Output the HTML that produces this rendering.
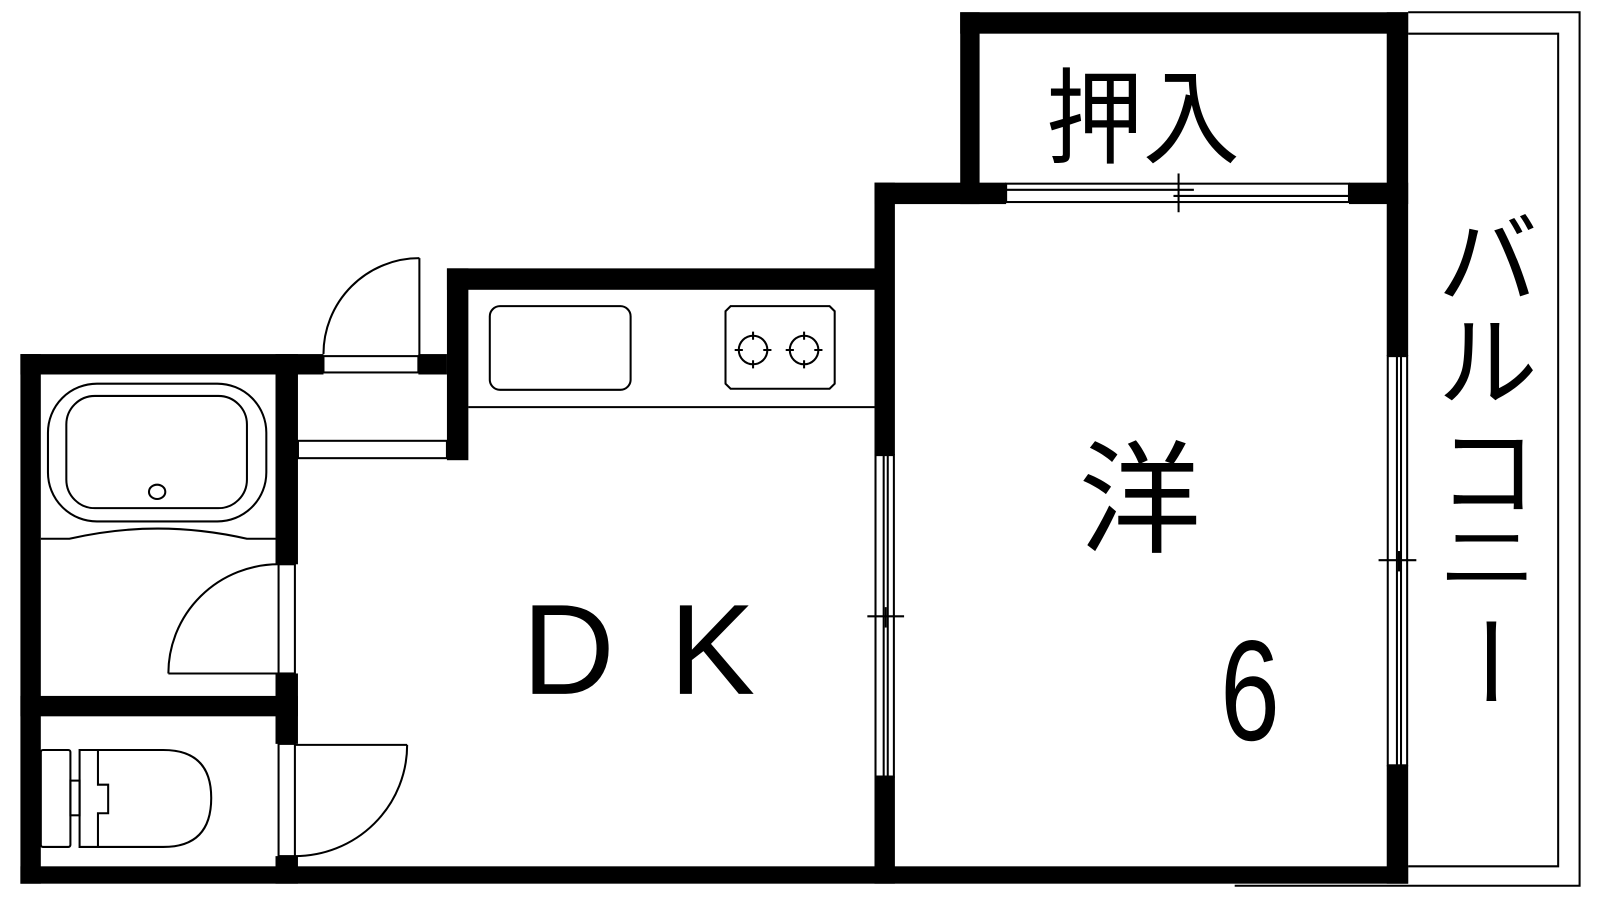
<!DOCTYPE html>
<html><head><meta charset="utf-8"><style>
html,body{margin:0;padding:0;background:#fff;}
svg{display:block}
text{font-family:"Liberation Sans","Noto Sans CJK JP",sans-serif;fill:#000}
</style></head><body>
<svg width="1600" height="900" viewBox="0 0 1568 882" preserveAspectRatio="none" xmlns="http://www.w3.org/2000/svg">
<rect width="1568" height="882" fill="#fff"/>
<g fill="#000">
<rect x="20" y="347" width="20" height="519"/>
<rect x="20" y="347" width="297" height="20"/>
<rect x="410" y="347" width="28" height="20"/>
<rect x="438" y="263" width="21" height="188"/>
<rect x="438" y="263" width="420" height="21"/>
<rect x="270" y="347" width="22" height="206"/>
<rect x="270" y="660" width="22" height="69"/>
<rect x="270" y="839" width="22" height="27"/>
<rect x="20" y="682" width="272" height="20"/>
<rect x="20" y="849" width="1360" height="17"/>
<rect x="857" y="179" width="20" height="267"/>
<rect x="857" y="761" width="20" height="105"/>
<rect x="857" y="179" width="129" height="21"/>
<rect x="1322" y="179" width="58" height="21"/>
<rect x="941" y="12" width="439" height="21"/>
<rect x="941" y="12" width="19" height="188"/>
<rect x="1359" y="12" width="21" height="337"/>
<rect x="1359" y="750" width="21" height="116"/>
</g>
<g fill="none" stroke="#000" stroke-width="2">
<polyline points="1380,12 1548,12 1548,868 1210,868"/>
<polyline points="1380,33 1527,33 1527,849 1380,849"/>
<line x1="411" y1="253" x2="411" y2="365"/>
<path d="M411,253 A94,94 0 0 0 317,347"/>
<rect x="317" y="349" width="93" height="16"/>
<rect x="292" y="432" width="146" height="17"/>
<line x1="459" y1="399" x2="857" y2="399"/>
<rect x="273" y="553" width="16" height="107"/>
<line x1="165" y1="660" x2="273" y2="660"/>
<path d="M165,660 A108,107 0 0 1 273,553"/>
<rect x="273" y="729" width="16" height="110"/>
<line x1="289" y1="730" x2="399" y2="730"/>
<path d="M399,730 A110,109 0 0 1 289,839"/>
<rect x="47" y="376" width="214" height="135" rx="48" ry="48"/>
<rect x="65" y="388" width="177" height="110" rx="28" ry="28"/>
<ellipse cx="154" cy="482" rx="8" ry="7"/>
<path d="M40,528 L68,528 Q154,508 242,528 L270,528"/>
<rect x="40" y="735" width="29" height="95" rx="2"/>
<rect x="69" y="765" width="9" height="34"/>
<path d="M78,735 L160,735 Q207,735 207,782 Q207,830 160,830 L78,830 Z"/>
<polyline points="96,735 96,769 106,769 106,797 96,797 96,830"/>
<rect x="480" y="300" width="138" height="82" rx="10"/>
<path d="M711,305 L716,300 L813,300 L818,305 L818,376 L813,381 L716,381 L711,376 Z"/>
<circle cx="738" cy="343" r="14"/>
<circle cx="788" cy="343" r="14"/>
<path d="M720,343h8M748,343h8M738,325v8M738,353v8M770,343h8M798,343h8M788,325v8M788,353v8"/>
<rect x="986" y="180" width="336" height="18"/>
<line x1="986" y1="186" x2="1170" y2="186"/>
<line x1="1150" y1="192" x2="1322" y2="192"/>
<line x1="1155" y1="170" x2="1155" y2="208"/>
<rect x="858" y="446" width="18" height="315"/>
<line x1="866" y1="446" x2="866" y2="761"/>
<line x1="870" y1="446" x2="870" y2="761"/>
<line x1="850" y1="604" x2="886" y2="604"/>
<line x1="868" y1="595" x2="868" y2="615"/>
<rect x="1360" y="349" width="19" height="401"/>
<line x1="1369" y1="349" x2="1369" y2="750"/>
<line x1="1373" y1="349" x2="1373" y2="750"/>
<line x1="1351" y1="549" x2="1388" y2="549"/>
<line x1="1371" y1="540" x2="1371" y2="560"/>
</g>
<text x="1120" y="152" font-size="102" text-anchor="middle" transform="translate(1120,0) scale(0.93,1) translate(-1120,0)">押入</text>
<text x="1117" y="532" font-size="120" text-anchor="middle">洋</text>
<text x="1225" y="725" font-size="140" text-anchor="middle" transform="translate(1225,0) scale(0.75,1) translate(-1225,0)">6</text>
<text x="557" y="680" font-size="126" text-anchor="middle">D</text>
<text x="698" y="680" font-size="126" text-anchor="middle">K</text>
<g font-size="98" text-anchor="middle">
<text x="1458" y="290">バ</text>
<text x="1458" y="390">ル</text>
<text x="1458" y="498">コ</text>
<text x="1458" y="578" transform="translate(1458,555) scale(1,0.75) translate(-1458,-555)">ニ</text>
<text x="1458" y="682" transform="rotate(90 1458 648)">ー</text>
</g>
</svg>
</body></html>
